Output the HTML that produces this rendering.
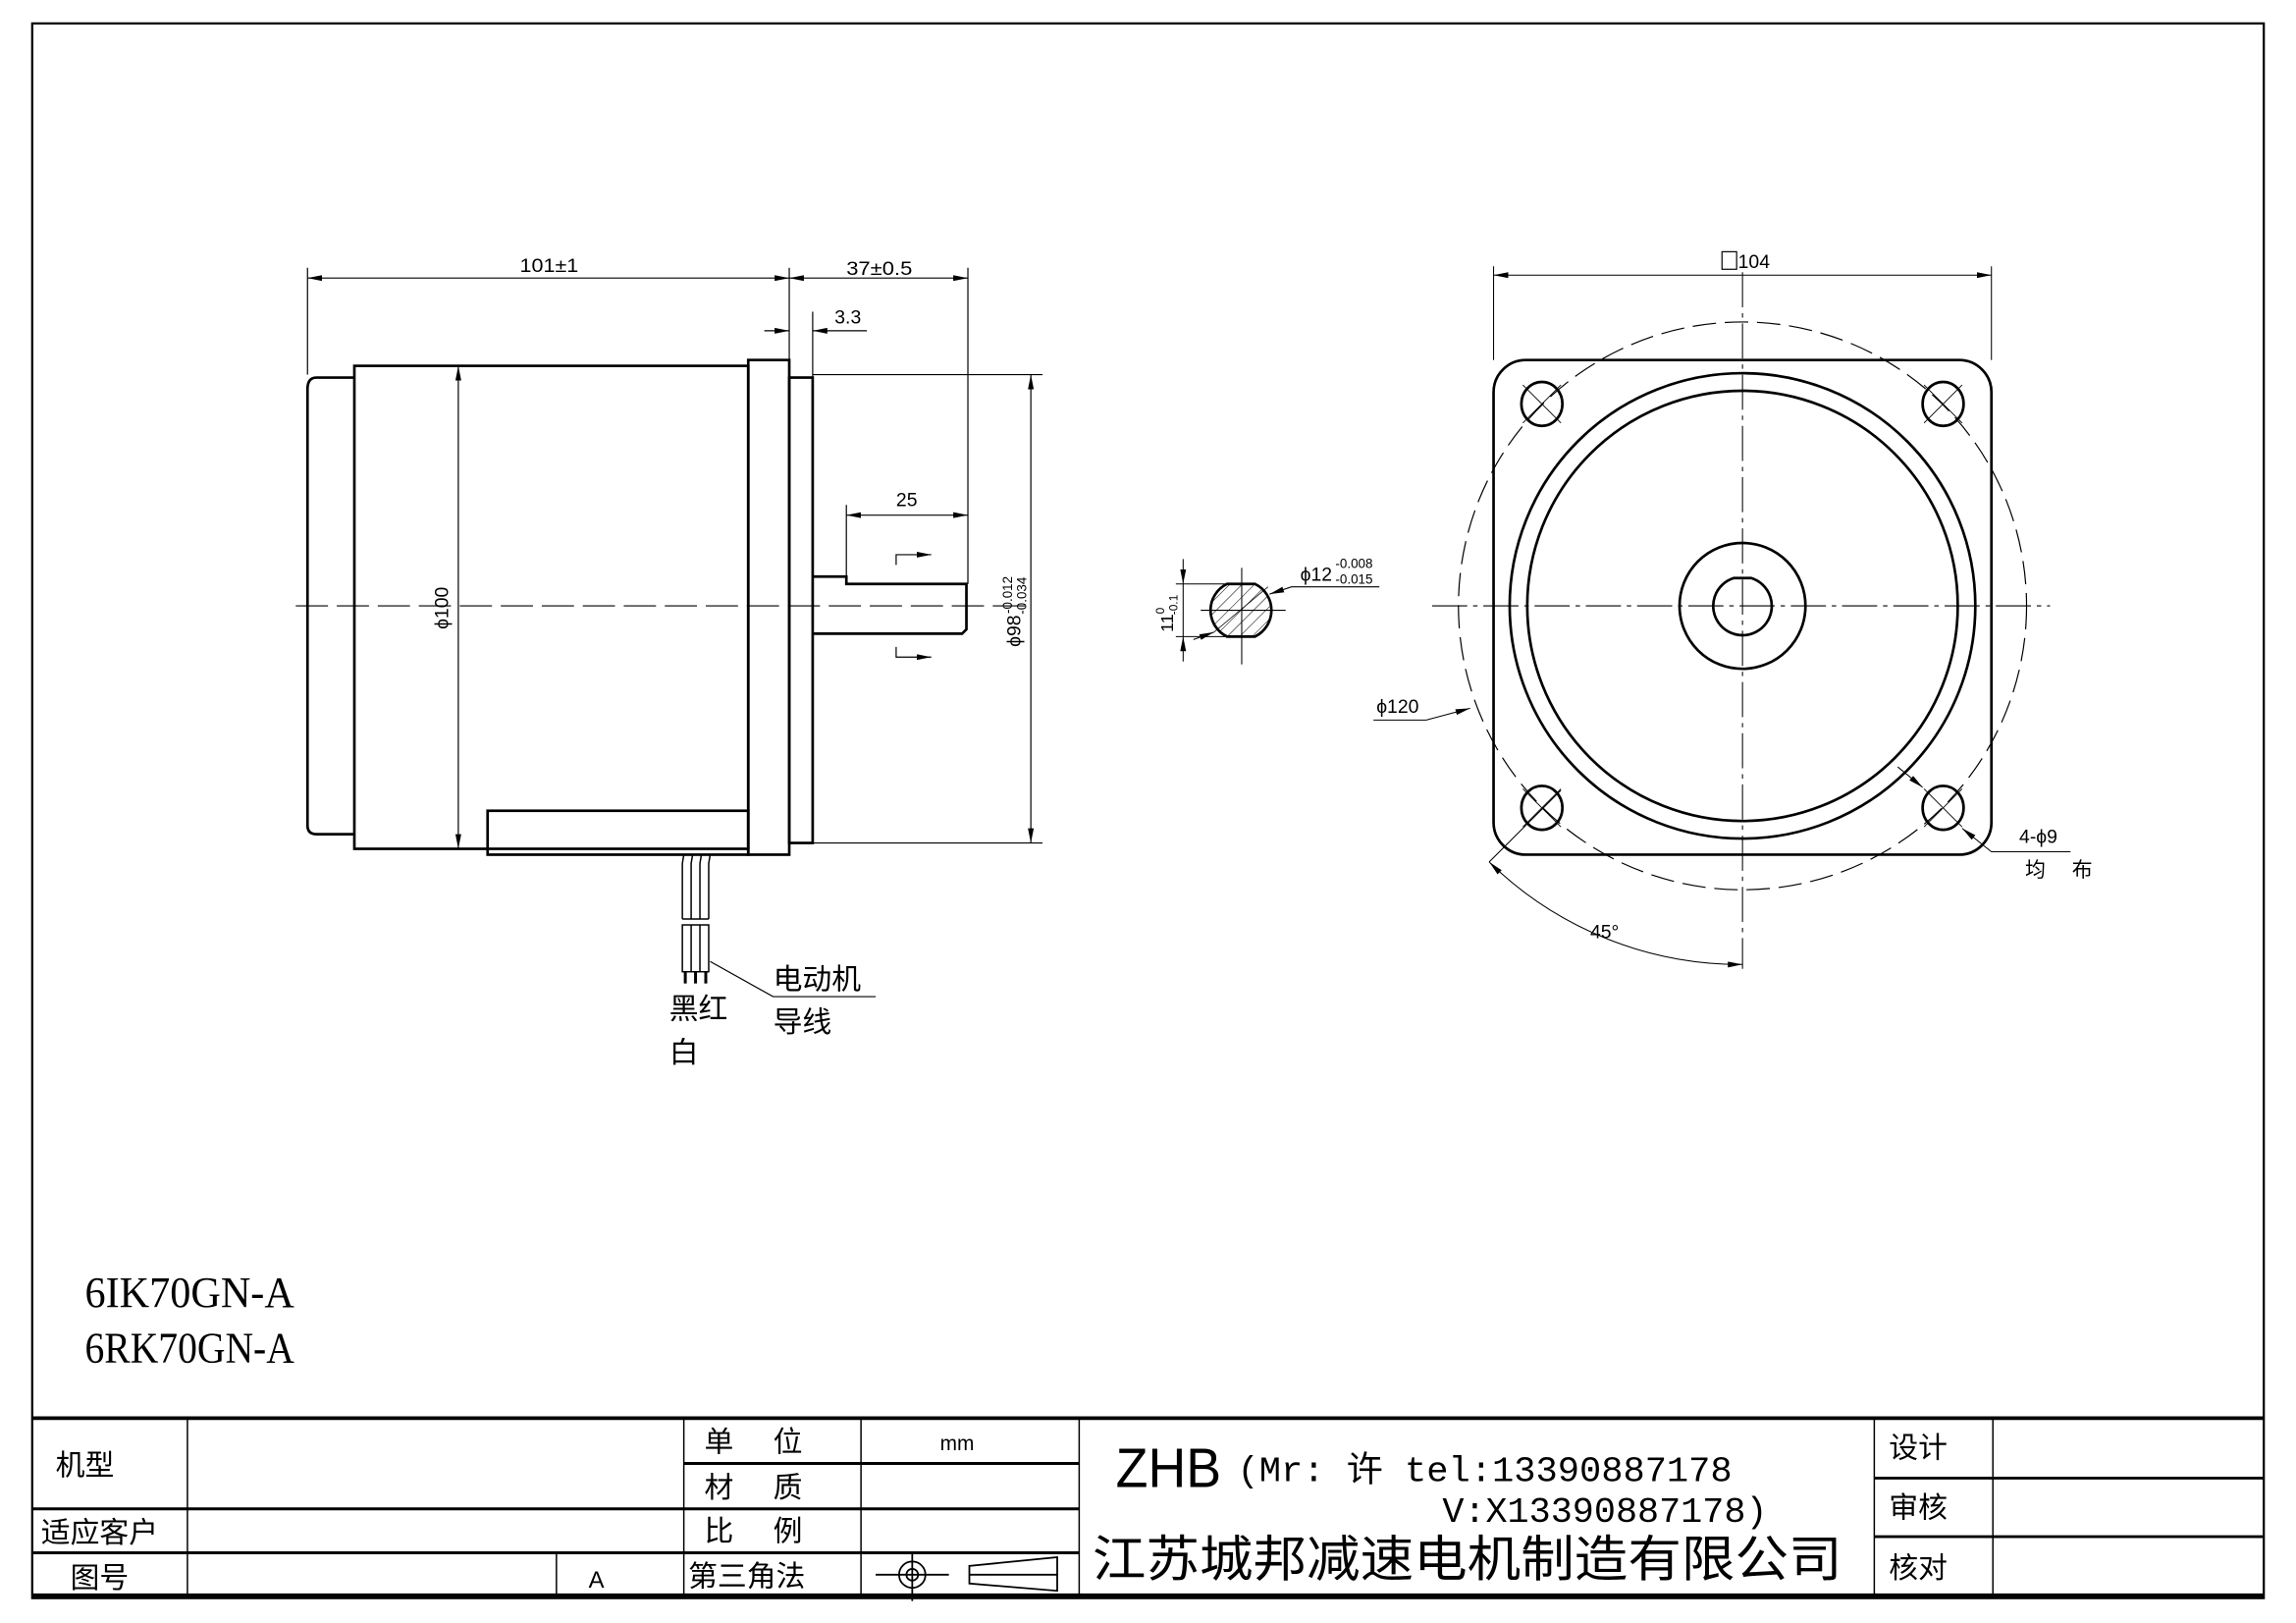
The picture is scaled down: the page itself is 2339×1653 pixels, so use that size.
<!DOCTYPE html>
<html><head><meta charset="utf-8"><style>
html,body{margin:0;padding:0;background:#fff;}
svg{display:block;}
text{font-family:"Liberation Sans","Noto Sans CJK SC",sans-serif;fill:#000;}
</style></head><body>
<svg width="2339" height="1653" viewBox="0 0 1568 1109" preserveAspectRatio="none" xmlns="http://www.w3.org/2000/svg">
<defs>
<marker id="a" viewBox="0 0 10 4" refX="10" refY="2" markerWidth="10" markerHeight="4" orient="auto-start-reverse" markerUnits="userSpaceOnUse"><path d="M0,0L10,2L0,4z" fill="#000"/></marker>
<pattern id="h" width="6" height="6" patternUnits="userSpaceOnUse" patternTransform="rotate(45)"><line x1="0" y1="0" x2="0" y2="6" stroke="#000" stroke-width="0.7"/></pattern>
</defs>
<rect width="1568" height="1109" fill="#fff"/>
<rect x="22" y="16" width="1524" height="1076" fill="none" stroke="#000" stroke-width="1.5"/>
<g stroke="#000" fill="none">
<line x1="22" y1="969" x2="1546" y2="969" stroke-width="2.5"/>
<line x1="22" y1="1090" x2="1546" y2="1090" stroke-width="2.5"/>
<line x1="22" y1="1031" x2="737" y2="1031" stroke-width="2"/>
<line x1="22" y1="1061" x2="737" y2="1061" stroke-width="2"/>
<line x1="467" y1="1000" x2="737" y2="1000" stroke-width="2"/>
<line x1="1280" y1="1010" x2="1546" y2="1010" stroke-width="2"/>
<line x1="1280" y1="1050" x2="1546" y2="1050" stroke-width="2"/>
<line x1="128" y1="969" x2="128" y2="1090" stroke-width="1"/>
<line x1="380" y1="1061" x2="380" y2="1090" stroke-width="1"/>
<line x1="467" y1="969" x2="467" y2="1090" stroke-width="1"/>
<line x1="588" y1="969" x2="588" y2="1090" stroke-width="1"/>
<line x1="737" y1="969" x2="737" y2="1090" stroke-width="1"/>
<line x1="1280" y1="969" x2="1280" y2="1090" stroke-width="1"/>
<line x1="1361" y1="969" x2="1361" y2="1090" stroke-width="1"/>
</g>
<g font-size="20">
<text x="38" y="1008">机型</text>
<text x="28" y="1054">适应客户</text>
<text x="48" y="1085">图号</text>
<text x="402" y="1085" font-size="16">A</text>
<text x="481" y="992">单</text><text x="528" y="992">位</text>
<text x="481" y="1023">材</text><text x="528" y="1023">质</text>
<text x="481" y="1053">比</text><text x="528" y="1053">例</text>
<text x="470" y="1084">第三角法</text>
<text x="642" y="991" font-size="14">mm</text>
<text x="1290" y="996">设计</text>
<text x="1290" y="1037">审核</text>
<text x="1290" y="1078">核对</text>
</g>
<text x="762" y="1016" font-size="38" textLength="72" lengthAdjust="spacingAndGlyphs">ZHB</text>
<text x="845" y="1012" font-size="24" style="font-family:'Liberation Mono','Noto Sans CJK SC',monospace" textLength="338" lengthAdjust="spacingAndGlyphs">(Mr: 许 tel:13390887178</text>
<text x="985" y="1040" font-size="24" style="font-family:'Liberation Mono',monospace" textLength="222" lengthAdjust="spacingAndGlyphs">V:X13390887178)</text>
<text x="746" y="1077" font-size="34" textLength="512" lengthAdjust="spacingAndGlyphs">江苏城邦减速电机制造有限公司</text>
<g stroke="#000" fill="none" stroke-width="1.2">
<circle cx="623" cy="1076" r="9"/><circle cx="623" cy="1076" r="4"/>
<line x1="598" y1="1076" x2="648" y2="1076"/><line x1="623" y1="1060" x2="623" y2="1094"/>
<path d="M662,1070 L722,1064 L722,1087 L662,1082 Z"/><line x1="662" y1="1076" x2="722" y2="1076"/>
</g>
<g font-size="30" style="font-family:'Liberation Serif',serif">
<text x="58" y="893" textLength="143" lengthAdjust="spacingAndGlyphs" style="font-family:'Liberation Serif',serif">6IK70GN-A</text>
<text x="58" y="931" textLength="143" lengthAdjust="spacingAndGlyphs" style="font-family:'Liberation Serif',serif">6RK70GN-A</text>
</g>

<g stroke="#000" fill="none" stroke-width="1.8">
<path d="M242,258 L216,258 Q210,258 210,266 L210,564 Q210,570 216,570 L242,570"/>
<rect x="242" y="250" width="269" height="330"/>
<rect x="511" y="246" width="28" height="338"/>
<rect x="539" y="258" width="16" height="318"/>
<rect x="333" y="554" width="178" height="30"/>
<path d="M555,394 L578,394 L578,399 L660,399 L660,430 L657,433 L555,433"/>
</g>
<g stroke="#000" stroke-width="0.8" fill="none">
<line x1="202" y1="414" x2="700" y2="414" stroke-dasharray="22,6"/>
<line x1="210" y1="183" x2="210" y2="256"/>
<line x1="539" y1="183" x2="539" y2="246"/>
<line x1="661" y1="183" x2="661" y2="399"/>
<line x1="210" y1="190" x2="539" y2="190" marker-start="url(#a)" marker-end="url(#a)"/>
<line x1="539" y1="190" x2="661" y2="190" marker-start="url(#a)" marker-end="url(#a)"/>
<line x1="555" y1="213" x2="555" y2="258"/>
<line x1="522" y1="226" x2="539" y2="226" marker-end="url(#a)"/>
<line x1="592" y1="226" x2="555" y2="226" marker-end="url(#a)"/>
<line x1="578" y1="345" x2="578" y2="394"/>
<line x1="578" y1="352" x2="661" y2="352" marker-start="url(#a)" marker-end="url(#a)"/>
<line x1="313" y1="250" x2="313" y2="580" marker-start="url(#a)" marker-end="url(#a)"/>
<line x1="555" y1="256" x2="712" y2="256"/>
<line x1="555" y1="576" x2="712" y2="576"/>
<line x1="704" y1="256" x2="704" y2="576" marker-start="url(#a)" marker-end="url(#a)"/>
<path d="M612,386 L612,379 L636,379" marker-end="url(#a)"/>
<path d="M612,442 L612,449 L636,449" marker-end="url(#a)"/>
</g>
<g font-size="13">
<text x="355" y="186" textLength="40" lengthAdjust="spacingAndGlyphs">101±1</text>
<text x="578" y="188" textLength="45" lengthAdjust="spacingAndGlyphs">37±0.5</text>
<text x="570" y="221">3.3</text>
<text x="612" y="346">25</text>
<text transform="translate(306,430) rotate(-90)">ϕ100</text>
<text transform="translate(697,442) rotate(-90)">ϕ98<tspan font-size="9" dx="1" dy="-6">-0.012</tspan><tspan font-size="9" dx="-26" dy="10">-0.034</tspan></text>
</g>
<g stroke="#000" fill="none" stroke-width="1">
<path d="M466,628 L466,590 L467,584"/><path d="M484,628 L484,590 L485,584"/>
<path d="M472,628 L472,590 L473,584"/><path d="M478,628 L478,590 L479,584"/>
<line x1="466" y1="628" x2="484" y2="628"/>
<rect x="466" y="632" width="18" height="32"/>
<line x1="472" y1="632" x2="472" y2="664"/><line x1="478" y1="632" x2="478" y2="664"/>
<line x1="468" y1="664" x2="468" y2="672" stroke-width="2"/><line x1="475" y1="664" x2="475" y2="672" stroke-width="2"/><line x1="482" y1="664" x2="482" y2="672" stroke-width="2"/>
<polyline points="485,657 528,681 598,681" stroke-width="0.8"/>
</g>
<g font-size="20">
<text x="528" y="676">电动机</text>
<text x="528" y="705">导线</text>
<text x="457" y="696">黑红</text>
<text x="457" y="726">白</text>
</g>

<g stroke="#000" fill="none">
<path d="M838,399 L857,399 A20,20 0 0 1 857,435 L838,435 A20,20 0 0 1 838,399 Z" fill="url(#h)" stroke-width="1.8"/>
<line x1="820" y1="417" x2="878" y2="417" stroke-width="0.7"/>
<line x1="848" y1="388" x2="848" y2="454" stroke-width="0.7"/>
<line x1="803" y1="399" x2="840" y2="399" stroke-width="0.7"/>
<line x1="803" y1="435" x2="840" y2="435" stroke-width="0.7"/>
<line x1="808" y1="382" x2="808" y2="399" stroke-width="0.7" marker-end="url(#a)"/>
<line x1="808" y1="452" x2="808" y2="435" stroke-width="0.7" marker-end="url(#a)"/>
<line x1="808" y1="399" x2="808" y2="435" stroke-width="0.7"/>
<line x1="815" y1="437" x2="829" y2="432" stroke-width="0.7" marker-end="url(#a)"/>
<line x1="829" y1="432" x2="866" y2="401" stroke-width="0.5"/>
<polyline points="942,401 882,401 867,406" stroke-width="0.7" marker-end="url(#a)"/>
</g>
<text x="888" y="397" font-size="13">ϕ12</text>
<text x="912" y="388" font-size="9">-0.008</text>
<text x="912" y="399" font-size="9">-0.015</text>
<text transform="translate(801,432) rotate(-90)" font-size="12">11<tspan font-size="8" dy="-6">0</tspan><tspan font-size="8" dx="-5" dy="9">-0.1</tspan></text>

<g stroke="#000" fill="none">
<rect x="1020" y="246" width="340" height="338" rx="22" stroke-width="1.8"/>
<circle cx="1190" cy="414" r="159" stroke-width="1.8"/>
<circle cx="1190" cy="414" r="147" stroke-width="1.8"/>
<circle cx="1190" cy="414" r="43" stroke-width="1.8"/>
<path d="M1184,395 L1196,395 A20,20 0 1 1 1184,395 Z" stroke-width="1.8"/>
<circle cx="1190" cy="414" r="194" stroke-width="0.8" stroke-dasharray="16,6"/>
<g stroke-width="1.8">
<ellipse cx="1053" cy="276" rx="14" ry="15"/><ellipse cx="1327" cy="276" rx="14" ry="15"/>
<ellipse cx="1053" cy="552" rx="14" ry="15"/><ellipse cx="1327" cy="552" rx="14" ry="15"/>
</g>
<g stroke-width="0.6">
<line x1="1040" y1="263" x2="1066" y2="289"/><line x1="1066" y1="263" x2="1040" y2="289"/>
<line x1="1314" y1="263" x2="1340" y2="289"/><line x1="1340" y1="263" x2="1314" y2="289"/>
<line x1="1040" y1="539" x2="1066" y2="565"/><line x1="1066" y1="539" x2="1040" y2="565"/>
<line x1="1314" y1="539" x2="1340" y2="565"/><line x1="1340" y1="539" x2="1314" y2="565"/>
</g>
<line x1="978" y1="414" x2="1400" y2="414" stroke-width="0.7" stroke-dasharray="24,4,3,4"/>
<line x1="1190" y1="186" x2="1190" y2="662" stroke-width="0.7" stroke-dasharray="24,4,3,4"/>
<line x1="1020" y1="182" x2="1020" y2="246" stroke-width="0.7"/>
<line x1="1360" y1="182" x2="1360" y2="246" stroke-width="0.7"/>
<line x1="1020" y1="188" x2="1360" y2="188" stroke-width="0.7" marker-start="url(#a)" marker-end="url(#a)"/>
<line x1="1017" y1="589" x2="1066" y2="540" stroke-width="0.7"/>
<path d="M1017,589 A245,245 0 0 0 1190,659" stroke-width="0.7" marker-start="url(#a)" marker-end="url(#a)"/>
<polyline points="938,492 974,492 1004,484" stroke-width="0.7" marker-end="url(#a)"/>
<line x1="1296" y1="524" x2="1313" y2="538" stroke-width="0.7" marker-end="url(#a)"/>
<polyline points="1340,566 1360,582 1414,582" stroke-width="0.7" marker-start="url(#a)"/>
</g>
<rect x="1176" y="172" width="10" height="12" fill="none" stroke="#000" stroke-width="0.8"/>
<text x="1187" y="183" font-size="13">104</text>
<text x="940" y="487" font-size="13">ϕ120</text>
<text x="1086" y="641" font-size="13">45°</text>
<text x="1379" y="576" font-size="13">4-ϕ9</text>
<text x="1383" y="599" font-size="14">均</text><text x="1415" y="599" font-size="14">布</text>
</svg>
</body></html>
